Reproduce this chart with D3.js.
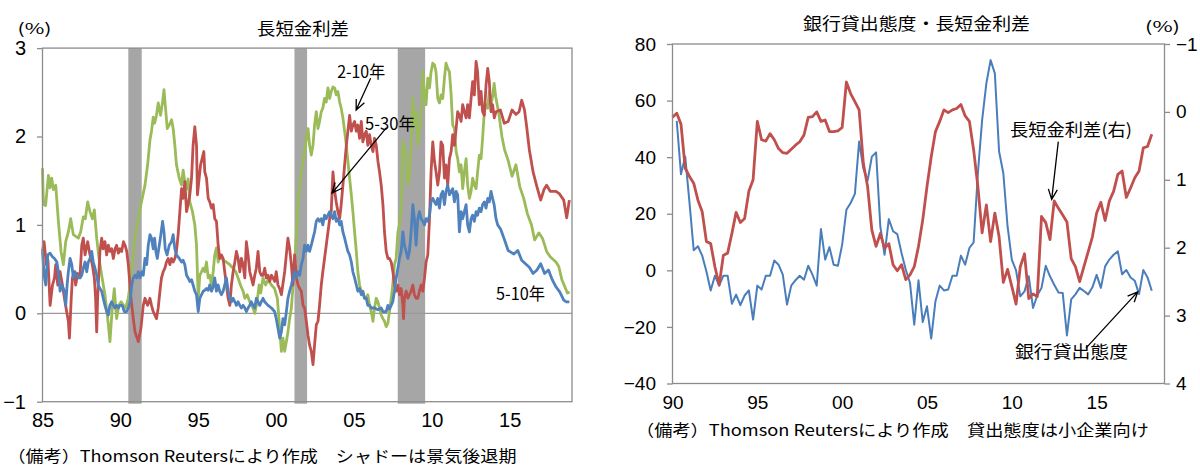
<!DOCTYPE html>
<html>
<head>
<meta charset="utf-8">
<script src="https://cdn.jsdelivr.net/npm/d3@7"></script>
<style>
  html, body { margin: 0; padding: 0; background: #fff; }
  svg { display: block; }
</style>
</head>
<body>
<svg id="chart" width="1200" height="467"></svg>
<script>
// ---------------- data: left panel (US yield-curve spreads, %) ----------------
const leftTickYears  = [1985, 1990, 1995, 2000, 2005, 2010, 2015];
const leftTickLabels = ["85", "90", "95", "00", "05", "10", "15"];
const leftValueTicks = [-1, 0, 1, 2, 3];
// NBER recession periods (shaded)
const recessions = [[1990.51, 1991.37], [2001.18, 2001.99], [2007.81, 2009.57]];

// 2-10 year spread  [year, %]
const spread2y10y = [
  [1985.0,1.64],[1985.06,1.23],[1985.2,1.22],[1985.38,1.56],[1985.48,1.42],[1985.59,1.53],[1985.7,1.40],[1985.85,1.45],
  [1986.02,1.04],[1986.19,0.70],[1986.34,0.55],[1986.49,0.81],[1986.66,0.92],[1986.81,1.07],[1986.98,0.89],[1987.14,0.87],
  [1987.30,0.85],[1987.45,0.92],[1987.62,1.09],[1987.75,1.07],[1987.9,1.26],[1988.05,1.15],[1988.2,1.07],[1988.33,1.17],
  [1988.48,0.85],[1988.63,0.62],[1988.8,0.43],[1989.01,0.21],[1989.23,-0.13],[1989.33,-0.32],[1989.48,0.06],[1989.61,0.28],
  [1989.76,-0.06],[1989.9,0.09],[1990.05,0.13],[1990.2,0.09],[1990.34,0.06],[1990.51,0.17],[1990.68,0.40],[1990.83,0.66],
  [1990.98,0.92],[1991.15,1.07],[1991.32,1.23],[1991.45,1.34],[1991.58,1.45],[1991.75,1.68],[1991.9,1.96],[1992.0,2.06],
  [1992.11,2.22],[1992.2,2.15],[1992.32,2.24],[1992.43,2.38],[1992.58,2.24],[1992.71,2.39],[1992.8,2.53],[1992.92,2.28],
  [1993.01,2.09],[1993.14,2.13],[1993.29,2.19],[1993.39,2.09],[1993.5,1.90],[1993.6,1.68],[1993.78,1.53],[1993.93,1.45],
  [1994.03,1.62],[1994.14,1.49],[1994.25,1.41],[1994.35,1.52],[1994.46,1.26],[1994.63,1.15],[1994.78,1.00],[1994.89,0.77],
  [1995.0,0.17],[1995.1,0.43],[1995.21,0.47],[1995.32,0.51],[1995.42,0.47],[1995.53,0.58],[1995.64,0.40],[1995.74,0.43],
  [1995.85,0.32],[1995.96,0.47],[1996.06,0.66],[1996.17,0.74],[1996.28,0.58],[1996.38,0.66],[1996.6,0.60],[1996.81,0.58],
  [1997.03,0.55],[1997.24,0.51],[1997.41,0.47],[1997.56,0.40],[1997.71,0.32],[1997.88,0.25],[1997.99,0.17],[1998.14,0.21],
  [1998.31,0.13],[1998.52,0.06],[1998.63,0.0],[1998.78,0.13],[1998.91,0.32],[1999.01,0.23],[1999.16,0.40],[1999.33,0.32],
  [1999.48,0.38],[1999.7,0.32],[1999.9,0.28],[2000.08,0.17],[2000.23,-0.17],[2000.34,-0.43],[2000.44,-0.28],[2000.55,-0.43],
  [2000.66,-0.32],[2000.76,-0.21],[2000.87,-0.06],[2000.98,0.06],[2001.09,0.32],[2001.19,0.58],[2001.3,0.89],[2001.41,1.23],
  [2001.51,1.45],[2001.62,1.60],[2001.73,1.72],[2001.83,1.83],[2001.94,1.98],[2002.05,2.09],[2002.15,1.90],[2002.26,1.79],
  [2002.37,1.90],[2002.47,2.13],[2002.58,2.28],[2002.69,2.09],[2002.79,2.17],[2002.9,2.28],[2003.0,2.32],[2003.11,2.43],
  [2003.22,2.39],[2003.33,2.55],[2003.44,2.43],[2003.54,2.51],[2003.65,2.56],[2003.76,2.55],[2003.86,2.47],[2003.97,2.51],
  [2004.08,2.39],[2004.18,2.32],[2004.29,2.21],[2004.4,2.06],[2004.51,1.90],[2004.61,1.72],[2004.72,1.53],[2004.83,1.34],
  [2004.93,1.15],[2005.04,0.92],[2005.15,0.70],[2005.25,0.47],[2005.36,0.32],[2005.47,0.25],[2005.57,0.23],[2005.68,0.17],
  [2005.79,0.17],[2005.89,0.21],[2006.0,0.09],[2006.11,0.02],[2006.22,-0.09],[2006.32,0.06],[2006.43,0.17],[2006.54,0.13],
  [2006.64,0.06],[2006.75,-0.02],[2006.86,-0.06],[2006.96,-0.09],[2007.07,-0.15],[2007.18,-0.11],[2007.28,0.02],[2007.39,0.17],
  [2007.49,0.32],[2007.6,0.55],[2007.71,0.62],[2007.82,0.92],[2007.92,1.00],[2008.03,1.19],[2008.14,1.94],[2008.24,1.87],
  [2008.35,1.75],[2008.46,1.45],[2008.56,1.53],[2008.67,1.90],[2008.78,2.43],[2008.88,2.13],[2008.99,2.28],[2009.1,1.90],
  [2009.2,2.06],[2009.31,2.28],[2009.42,2.73],[2009.53,2.47],[2009.63,2.36],[2009.74,2.66],[2009.85,2.55],[2009.95,2.73],
  [2010.06,2.83],[2010.17,2.81],[2010.27,2.73],[2010.38,2.43],[2010.49,2.38],[2010.59,2.47],[2010.7,2.43],[2010.81,2.66],
  [2010.91,2.83],[2011.02,2.77],[2011.13,2.73],[2011.24,2.47],[2011.34,2.13],[2011.45,2.09],[2011.56,1.83],[2011.66,1.75],
  [2011.77,1.60],[2011.88,1.68],[2011.98,1.41],[2012.09,1.60],[2012.2,1.75],[2012.3,1.45],[2012.41,1.30],[2012.52,1.38],
  [2012.62,1.53],[2012.73,1.45],[2012.84,1.41],[2012.94,1.60],[2013.05,1.79],[2013.16,1.75],[2013.26,1.98],[2013.37,2.28],
  [2013.48,2.36],[2013.59,2.32],[2013.69,2.51],[2013.8,2.36],[2013.9,2.45],[2014.0,2.60],[2014.1,2.45],[2014.3,2.26],
  [2014.5,2.00],[2014.67,1.85],[2014.9,1.73],[2015.15,1.55],[2015.4,1.68],[2015.65,1.43],[2015.9,1.30],[2016.13,1.13],
  [2016.4,1.00],[2016.6,0.83],[2016.87,0.91],[2017.1,0.85],[2017.37,0.70],[2017.6,0.64],[2017.97,0.58],[2018.15,0.53],
  [2018.35,0.38],[2018.54,0.30],[2018.7,0.23],[2018.85,0.24]
];

// 5-30 year spread  [year, %]
const spread5y30y = [
  [1985.0,0.70],[1985.1,0.81],[1985.25,0.55],[1985.35,0.60],[1985.49,0.09],[1985.64,0.32],[1985.77,0.40],[1985.85,0.55],
  [1985.98,0.32],[1986.13,0.47],[1986.28,0.32],[1986.41,0.17],[1986.55,0.02],[1986.66,-0.09],[1986.73,-0.28],[1986.84,0.15],
  [1986.92,0.40],[1987.05,0.47],[1987.13,0.32],[1987.26,0.45],[1987.41,0.43],[1987.52,0.77],[1987.62,0.85],[1987.73,0.66],
  [1987.9,0.81],[1988.05,0.66],[1988.2,0.55],[1988.33,0.40],[1988.41,0.17],[1988.48,-0.21],[1988.54,0.17],[1988.69,0.70],
  [1988.8,0.85],[1988.9,0.73],[1989.01,0.81],[1989.12,0.66],[1989.23,0.77],[1989.33,0.70],[1989.44,0.73],[1989.55,0.62],
  [1989.66,0.73],[1989.76,0.77],[1989.87,0.68],[1989.98,0.73],[1990.08,0.70],[1990.2,0.81],[1990.3,0.77],[1990.41,0.70],
  [1990.51,0.55],[1990.58,0.40],[1990.68,0.17],[1990.83,-0.06],[1990.94,-0.21],[1991.15,-0.32],[1991.32,-0.17],[1991.47,0.09],
  [1991.58,0.17],[1991.75,0.09],[1991.9,0.17],[1992.0,0.09],[1992.11,0.02],[1992.22,-0.02],[1992.32,-0.06],[1992.43,0.06],
  [1992.54,0.25],[1992.64,0.40],[1992.75,0.47],[1992.86,0.51],[1992.96,0.58],[1993.07,0.62],[1993.18,0.55],[1993.29,0.62],
  [1993.39,0.58],[1993.5,0.62],[1993.6,0.70],[1993.71,0.89],[1993.82,1.15],[1993.93,1.41],[1994.03,1.30],[1994.14,1.49],
  [1994.25,1.15],[1994.35,1.23],[1994.46,1.34],[1994.57,1.53],[1994.67,1.90],[1994.78,2.11],[1994.89,1.90],[1994.95,1.34],
  [1995.06,1.53],[1995.15,1.68],[1995.25,1.75],[1995.36,1.83],[1995.42,1.60],[1995.53,1.53],[1995.64,1.30],[1995.74,1.26],
  [1995.85,1.19],[1995.96,1.23],[1996.06,1.07],[1996.17,1.04],[1996.28,0.77],[1996.38,0.62],[1996.49,0.66],[1996.6,0.62],
  [1996.7,0.47],[1996.81,0.32],[1996.92,0.17],[1997.03,0.09],[1997.13,0.32],[1997.24,0.47],[1997.35,0.58],[1997.45,0.70],
  [1997.56,0.62],[1997.67,0.47],[1997.77,0.62],[1997.88,0.55],[1997.99,0.40],[1998.09,0.81],[1998.2,0.66],[1998.31,0.47],
  [1998.41,0.40],[1998.52,0.32],[1998.63,0.43],[1998.73,0.51],[1998.84,0.70],[1998.95,0.47],[1999.05,0.43],[1999.16,0.43],
  [1999.27,0.51],[1999.37,0.40],[1999.48,0.43],[1999.59,0.36],[1999.7,0.43],[1999.8,0.40],[1999.91,0.36],[2000.01,0.47],
  [2000.12,0.32],[2000.23,0.28],[2000.34,0.21],[2000.55,0.47],[2000.76,0.85],[2000.87,0.73],[2000.98,0.55],[2001.08,0.32],
  [2001.19,0.66],[2001.3,0.40],[2001.41,0.32],[2001.51,0.28],[2001.62,0.25],[2001.73,0.09],[2001.83,0.06],[2001.94,-0.09],
  [2002.05,-0.25],[2002.15,-0.36],[2002.26,-0.43],[2002.37,-0.58],[2002.47,-0.36],[2002.58,-0.13],[2002.69,-0.09],[2002.79,0.09],
  [2002.9,0.32],[2003.0,0.47],[2003.11,0.62],[2003.22,0.77],[2003.33,0.92],[2003.44,1.07],[2003.54,1.15],[2003.65,1.60],
  [2003.76,1.38],[2003.86,1.26],[2003.97,1.15],[2004.08,1.07],[2004.18,1.23],[2004.29,1.45],[2004.4,1.68],[2004.51,1.90],
  [2004.61,2.06],[2004.72,2.24],[2004.83,2.06],[2004.93,2.13],[2005.04,2.17],[2005.15,2.06],[2005.25,2.13],[2005.36,1.98],
  [2005.47,2.17],[2005.57,1.94],[2005.68,2.02],[2005.79,2.06],[2005.89,1.90],[2006.0,2.02],[2006.11,1.90],[2006.22,1.83],
  [2006.32,1.98],[2006.43,1.90],[2006.54,1.72],[2006.64,1.60],[2006.75,1.45],[2006.86,1.23],[2006.96,0.92],[2007.07,0.70],
  [2007.18,0.62],[2007.28,0.62],[2007.39,0.58],[2007.5,0.47],[2007.6,0.32],[2007.71,0.25],[2007.82,0.32],[2007.92,0.21],
  [2008.03,0.28],[2008.14,0.09],[2008.18,-0.06],[2008.24,0.17],[2008.35,0.25],[2008.46,0.17],[2008.56,0.21],[2008.67,0.25],
  [2008.78,0.32],[2008.88,0.21],[2008.99,0.17],[2009.1,0.17],[2009.2,0.25],[2009.31,0.32],[2009.42,0.25],[2009.53,0.40],
  [2009.63,0.58],[2009.74,0.66],[2009.85,1.07],[2009.95,1.60],[2010.06,1.94],[2010.17,1.72],[2010.27,1.60],[2010.38,1.45],
  [2010.49,1.60],[2010.59,1.94],[2010.7,1.90],[2010.81,1.53],[2010.91,1.68],[2011.02,1.45],[2011.13,1.75],[2011.24,1.83],
  [2011.34,2.02],[2011.45,1.90],[2011.56,2.09],[2011.66,2.28],[2011.77,2.24],[2011.88,2.17],[2011.98,2.36],[2012.09,2.28],
  [2012.2,2.21],[2012.3,2.36],[2012.41,2.21],[2012.52,2.43],[2012.62,2.62],[2012.73,2.47],[2012.84,2.85],[2012.94,2.73],
  [2013.05,2.36],[2013.16,2.51],[2013.26,2.28],[2013.37,2.24],[2013.48,2.58],[2013.59,2.77],[2013.69,2.62],[2013.8,2.28],
  [2013.9,2.36],[2014.01,2.21],[2014.12,2.28],[2014.4,2.30],[2014.65,2.15],[2014.9,2.17],[2015.15,2.30],[2015.4,2.25],
  [2015.6,2.28],[2015.77,2.41],[2015.95,2.30],[2016.09,2.11],[2016.26,1.85],[2016.5,1.60],[2016.75,1.43],[2016.99,1.28],
  [2017.2,1.40],[2017.37,1.45],[2017.6,1.38],[2017.97,1.38],[2018.2,1.35],[2018.47,1.28],[2018.66,1.08],[2018.83,1.28]
];

// 5-10 year spread  [year, %]
const spread5y10y = [
  [1985.0,0.70],[1985.06,0.55],[1985.13,0.40],[1985.21,0.32],[1985.34,0.66],[1985.49,0.68],[1985.64,0.64],[1985.77,0.62],
  [1985.92,0.58],[1986.02,0.47],[1986.13,0.25],[1986.24,0.32],[1986.41,0.25],[1986.49,0.09],[1986.58,0.32],[1986.66,0.47],
  [1986.77,0.62],[1986.88,0.55],[1986.98,0.40],[1987.09,0.47],[1987.2,0.43],[1987.3,0.40],[1987.41,0.40],[1987.52,0.43],
  [1987.62,0.51],[1987.73,0.58],[1987.84,0.47],[1987.94,0.58],[1988.05,0.62],[1988.16,0.70],[1988.26,0.58],[1988.37,0.51],
  [1988.48,0.43],[1988.58,0.32],[1988.69,0.28],[1988.8,0.25],[1988.9,0.17],[1989.01,0.09],[1989.12,0.02],[1989.23,-0.02],
  [1989.33,0.09],[1989.44,0.13],[1989.55,0.09],[1989.65,0.06],[1989.76,0.09],[1989.87,0.06],[1989.97,0.09],[1990.12,0.09],
  [1990.25,0.02],[1990.4,0.02],[1990.51,0.06],[1990.62,0.13],[1990.73,0.32],[1990.83,0.40],[1990.94,0.43],[1991.05,0.40],
  [1991.15,0.47],[1991.26,0.40],[1991.37,0.47],[1991.47,0.43],[1991.58,0.62],[1991.69,0.55],[1991.79,0.77],[1991.9,0.89],
  [1992.0,0.85],[1992.11,0.73],[1992.2,0.85],[1992.28,0.70],[1992.37,0.62],[1992.5,0.77],[1992.6,0.89],[1992.71,1.04],
  [1992.8,0.92],[1992.88,0.73],[1993.0,0.66],[1993.14,0.77],[1993.29,0.81],[1993.39,0.89],[1993.5,0.73],[1993.6,0.66],
  [1993.78,0.62],[1993.93,0.58],[1994.03,0.60],[1994.14,0.55],[1994.25,0.43],[1994.35,0.40],[1994.46,0.36],[1994.57,0.38],
  [1994.67,0.32],[1994.78,0.25],[1994.89,0.21],[1995.0,0.02],[1995.1,0.17],[1995.21,0.21],[1995.32,0.25],[1995.42,0.26],
  [1995.53,0.28],[1995.64,0.26],[1995.74,0.32],[1995.85,0.25],[1995.96,0.30],[1996.06,0.40],[1996.17,0.25],[1996.28,0.32],
  [1996.38,0.25],[1996.49,0.21],[1996.6,0.25],[1996.7,0.32],[1996.81,0.40],[1996.92,0.25],[1997.03,0.17],[1997.13,0.13],
  [1997.24,0.17],[1997.35,0.13],[1997.45,0.09],[1997.56,0.13],[1997.67,0.09],[1997.77,0.06],[1997.88,0.09],[1997.99,0.06],
  [1998.09,0.02],[1998.2,0.06],[1998.31,0.09],[1998.41,0.13],[1998.52,0.09],[1998.63,0.06],[1998.73,0.17],[1998.84,0.13],
  [1998.95,0.09],[1999.05,0.13],[1999.16,0.17],[1999.27,0.13],[1999.48,0.09],[1999.7,0.06],[1999.9,0.02],[2000.01,-0.06],
  [2000.12,-0.17],[2000.23,-0.28],[2000.34,-0.21],[2000.44,-0.06],[2000.55,-0.13],[2000.66,0.02],[2000.76,0.17],[2000.87,0.25],
  [2000.98,0.32],[2001.08,0.40],[2001.19,0.47],[2001.3,0.40],[2001.41,0.47],[2001.51,0.43],[2001.62,0.55],[2001.73,0.62],
  [2001.83,0.77],[2001.94,0.70],[2002.05,0.77],[2002.15,0.70],[2002.26,0.77],[2002.37,0.85],[2002.47,0.92],[2002.58,1.04],
  [2002.69,1.07],[2002.79,1.04],[2002.9,1.07],[2003.0,1.00],[2003.11,1.11],[2003.22,1.07],[2003.33,1.11],[2003.44,1.15],
  [2003.54,1.11],[2003.65,1.07],[2003.76,1.15],[2003.86,1.04],[2003.97,1.07],[2004.08,1.00],[2004.18,1.04],[2004.29,0.92],
  [2004.4,0.85],[2004.51,0.77],[2004.61,0.70],[2004.72,0.66],[2004.83,0.58],[2004.93,0.47],[2005.04,0.40],[2005.15,0.32],
  [2005.25,0.25],[2005.36,0.28],[2005.47,0.21],[2005.57,0.25],[2005.68,0.17],[2005.79,0.17],[2005.89,0.09],[2006.0,0.09],
  [2006.11,0.06],[2006.32,0.06],[2006.54,0.04],[2006.75,0.06],[2006.86,0.02],[2007.07,0.02],[2007.18,0.09],[2007.28,0.05],
  [2007.39,0.09],[2007.49,0.13],[2007.6,0.25],[2007.71,0.40],[2007.82,0.51],[2007.92,0.62],[2008.03,0.70],[2008.14,0.92],
  [2008.24,0.77],[2008.35,0.70],[2008.46,0.62],[2008.56,0.70],[2008.67,0.92],[2008.78,1.23],[2008.88,1.07],[2008.99,0.77],
  [2009.1,1.07],[2009.2,1.15],[2009.31,1.07],[2009.42,1.04],[2009.53,1.00],[2009.63,1.07],[2009.74,1.04],[2009.85,1.11],
  [2009.95,1.26],[2010.06,1.30],[2010.17,1.26],[2010.27,1.23],[2010.38,1.30],[2010.49,1.19],[2010.59,1.34],[2010.7,1.38],
  [2010.81,1.23],[2010.91,1.38],[2011.02,1.45],[2011.13,1.34],[2011.24,1.38],[2011.34,1.41],[2011.45,1.26],[2011.56,1.38],
  [2011.66,1.34],[2011.77,0.92],[2011.88,1.15],[2011.98,1.07],[2012.09,1.15],[2012.2,1.23],[2012.3,1.00],[2012.41,0.92],
  [2012.52,1.07],[2012.62,1.11],[2012.73,1.04],[2012.84,1.15],[2012.94,1.11],[2013.05,1.19],[2013.16,1.15],[2013.26,1.23],
  [2013.37,1.26],[2013.48,1.19],[2013.59,1.30],[2013.69,1.26],[2013.8,1.38],[2013.9,1.30],[2014.0,1.23],[2014.12,1.07],
  [2014.23,1.00],[2014.42,0.95],[2014.67,0.83],[2014.9,0.71],[2015.27,0.67],[2015.52,0.71],[2015.77,0.60],[2016.01,0.56],
  [2016.26,0.52],[2016.5,0.45],[2016.75,0.49],[2016.99,0.56],[2017.24,0.45],[2017.49,0.49],[2017.73,0.38],[2017.97,0.30],
  [2018.22,0.24],[2018.47,0.15],[2018.64,0.13],[2018.83,0.13]
];

// ---------------- data: right panel (quarterly) ----------------
const rightTickYears  = [1990, 1995, 2000, 2005, 2010, 2015];
const rightTickLabels = ["90", "95", "00", "05", "10", "15"];
const lendingTicks = [-40, -20, 0, 20, 40, 60, 80];
const spreadTicks  = [-1, 0, 1, 2, 3, 4];

// Bank lending standards for small firms (net % tightening), quarterly from 1990 Q2
const lendingStart = 1990.25;
const lendingStandards = [
  52.8, 34.0, 40.2, 24.0, 7.1, 8.5, 5.2, -0.4, -7.1, -1.9, -5.4, -1.9, -1.9, -11.8, -8.6, -12.3,
  -8.9, -7.1, -17.4, -5.4, -6.8, -1.9, -1.9, 3.5, 2.0, -1.5, -12.1, -5.4, -3.5, -1.9, -3.3, 1.6,
  -1.5, -5.4, 14.6, 3.8, 8.2, 2.0, 1.6, 9.1, 21.4, 23.8, 27.0, 45.5, 36.0, 31.7, 40.2, 41.7,
  15.5, 5.5, 18.1, 13.8, 12.8, 6.1, 0.2, -4.5, -19.2, -3.5, -18.3, -12.7, -24.1, -10.9, -5.4, -7.1,
  -6.8, -1.9, -1.9, 5.2, 2.0, 7.9, 9.9, 34.3, 53.1, 66.1, 74.3, 69.6, 42.0, 34.3, 15.5, 3.8,
  0.0, -9.2, -7.4, -2.1, -13.3, -8.9, -6.2, 1.6, -2.1, -5.1, -7.8, -8.0, -23.0, -10.3, -8.5, -6.2,
  -7.3, -8.5, -6.0, -1.6, -6.2, 1.4, 3.8, 5.5, 6.7, -1.4, 0.1, -2.5, -3.7, -8.4, 0.1, -2.5, -7.2
];

// Long-short rate spread (%, right axis, inverted), quarterly from 1990 Q1
const curveStart = 1990.0;
const curveSpread = [
  0.08, 0.02, 0.18, 0.83, 0.95, 1.05, 1.30, 1.47, 1.91, 1.94, 2.28, 2.55, 2.11, 2.08, 1.79, 1.48,
  1.63, 1.57, 1.17, 1.00, 0.14, 0.41, 0.43, 0.32, 0.41, 0.54, 0.60, 0.61, 0.55, 0.49, 0.44, 0.34,
  0.08, 0.07, 0.00, 0.14, 0.12, 0.29, 0.29, 0.28, 0.23, -0.44, -0.27, -0.15, -0.03, 0.76, 1.10, 1.74,
  1.98, 1.79, 2.01, 1.94, 2.25, 2.34, 2.25, 2.47, 2.40, 2.28, 1.98, 1.59, 1.10, 0.66, 0.29, 0.14,
  -0.03, 0.01, -0.03, -0.05, -0.11, 0.06, 0.14, 0.56, 1.10, 1.78, 1.37, 1.91, 1.49, 1.84, 2.51, 2.32,
  2.57, 2.83, 2.28, 2.09, 2.75, 2.68, 2.72, 1.54, 1.63, 1.88, 1.31, 1.42, 1.52, 1.62, 2.16, 2.28,
  2.50, 2.28, 2.06, 1.84, 1.49, 1.33, 1.60, 1.31, 1.17, 0.92, 0.87, 1.26, 1.12, 0.97, 0.87, 0.53,
  0.51, 0.33
];

// ---------------- drawing ----------------
const svg = d3.select("#chart");
const NUM_FONT = "'Liberation Sans Narrow', 'Liberation Sans', Arial, sans-serif";
const JP_FONT = "'Noto Sans CJK JP', 'Noto Sans', sans-serif";
const AXIS_GREY = "#8c8c8c";
const C_GREEN = "#9bbb59", C_RED = "#c0504d", C_BLUE = "#4f81bd";

svg.append("rect").attr("width", 1200).attr("height", 467).attr("fill", "#fff");

function text(g, x, y, str, opts = {}) {
  const t = g.append("text")
    .attr("x", x).attr("y", y)
    .attr("dominant-baseline", "central")
    .attr("text-anchor", opts.anchor || "middle")
    .attr("font-family", opts.font || JP_FONT)
    .attr("font-size", opts.size || 17)
    .attr("fill", opts.fill || "#000")
    .text(str);
  if (opts.len) t.attr("textLength", opts.len).attr("lengthAdjust", "spacingAndGlyphs");
  return t;
}

function arrow(g, x1, y1, x2, y2) {
  const ang = Math.atan2(y2 - y1, x2 - x1);
  const L = 11, spread = 0.42;
  const a1 = [x2 - L * Math.cos(ang - spread), y2 - L * Math.sin(ang - spread)];
  const a2 = [x2 - L * Math.cos(ang + spread), y2 - L * Math.sin(ang + spread)];
  g.append("path")
    .attr("d", `M${x1},${y1}L${x2},${y2}M${a1[0]},${a1[1]}L${x2},${y2}L${a2[0]},${a2[1]}`)
    .attr("fill", "none").attr("stroke", "#000").attr("stroke-width", 1.3);
}

// ===== Left panel =====
{
  const g = svg.append("g");
  const x = d3.scaleLinear().domain([1985, 2019]).range([42.5, 572]);
  const y = d3.scaleLinear().domain([-1, 3]).range([401.7, 48.1]);

  // recession shading
  g.selectAll("rect.rec").data(recessions).join("rect")
    .attr("x", d => x(d[0])).attr("width", d => x(d[1]) - x(d[0]))
    .attr("y", y(3)).attr("height", y(-1) - y(3) + 2)
    .attr("fill", "#a6a6a6");

  // zero line
  g.append("line").attr("x1", x(1985)).attr("x2", x(2019))
    .attr("y1", y(0)).attr("y2", y(0))
    .attr("stroke", "#9a9a9a").attr("stroke-width", 1.3);

  const line = d3.line().x(d => x(d[0])).y(d => y(d[1]));
  [[spread2y10y, C_GREEN], [spread5y30y, C_RED], [spread5y10y, C_BLUE]].forEach(([data, c]) => {
    g.append("path").datum(data).attr("d", line)
      .attr("fill", "none").attr("stroke", c).attr("stroke-width", 2.8)
      .attr("stroke-linejoin", "round");
  });

  // frame
  g.append("rect").attr("x", x(1985)).attr("y", y(3))
    .attr("width", x(2019) - x(1985)).attr("height", y(-1) - y(3))
    .attr("fill", "none").attr("stroke", AXIS_GREY).attr("stroke-width", 1.3);

  // y axis ticks + labels
  const yAxis = d3.axisLeft(y).tickValues(leftValueTicks).tickSize(5.5).tickPadding(11)
    .tickFormat(d => d < 0 ? "\u2212" + Math.abs(d) : d);
  const ya = g.append("g").attr("transform", `translate(${x(1985)},0)`).call(yAxis);
  ya.select(".domain").remove();
  ya.selectAll("line").attr("stroke", AXIS_GREY).attr("stroke-width", 1.3);
  ya.selectAll("text").attr("font-family", NUM_FONT).attr("font-size", 20).attr("fill", "#000");

  // x axis labels
  const xAxis = d3.axisBottom(x).tickValues(leftTickYears).tickSize(0).tickPadding(11)
    .tickFormat((d, i) => leftTickLabels[i]);
  const xa = g.append("g").attr("transform", `translate(0,${y(-1)})`).call(xAxis);
  xa.select(".domain").remove();
  xa.selectAll("text").attr("font-family", NUM_FONT).attr("font-size", 20).attr("fill", "#000");

  // titles and notes
  text(g, 303, 27, "長短金利差", { size: 17, len: 92 });
  text(g, 34.5, 27, "(%)", { size: 15, len: 34 });
  text(g, 7.5, 455, "（備考）Thomson Reutersにより作成　シャドーは景気後退期", { anchor: "start", size: 16, len: 509 });

  // annotations
  text(g, x(2005.46), y(2.75), "2-10年", { size: 17, len: 48 });
  arrow(g, x(2006.07), y(2.66), x(2005.14), y(2.30));
  text(g, x(2007.32), y(2.16), "5-30年", { size: 17, len: 50 });
  arrow(g, x(2007.09), y(2.10), x(2003.59), y(1.36));
  text(g, x(2015.7), y(0.24), "5-10年", { size: 17, len: 49 });
}

// ===== Right panel =====
{
  const g = svg.append("g");
  const x = d3.scaleLinear().domain([1990, 2019]).range([672.5, 1164.5]);
  const yL = d3.scaleLinear().domain([-40, 80]).range([383.5, 44]);
  const yR = d3.scaleLinear().domain([-1, 4]).range([44, 383.5]);

  const lendLine = d3.line().x((d, i) => x(lendingStart + i * 0.25)).y(d => yL(d));
  const curveLine = d3.line().x((d, i) => x(curveStart + i * 0.25)).y(d => yR(d));

  g.append("path").datum(lendingStandards).attr("d", lendLine)
    .attr("fill", "none").attr("stroke", "#4a7ebb").attr("stroke-width", 2)
    .attr("stroke-linejoin", "round");
  g.append("path").datum(curveSpread).attr("d", curveLine)
    .attr("fill", "none").attr("stroke", C_RED).attr("stroke-width", 2.8)
    .attr("stroke-linejoin", "round");

  // frame
  g.append("rect").attr("x", x(1990)).attr("y", yL(80))
    .attr("width", x(2019) - x(1990)).attr("height", yL(-40) - yL(80))
    .attr("fill", "none").attr("stroke", AXIS_GREY).attr("stroke-width", 1.3);

  const la = g.append("g").attr("transform", `translate(${x(1990)},0)`)
    .call(d3.axisLeft(yL).tickValues(lendingTicks).tickSize(5.5).tickPadding(11)
      .tickFormat(d => d < 0 ? "\u2212" + Math.abs(d) : d));
  la.select(".domain").remove();
  la.selectAll("line").attr("stroke", AXIS_GREY).attr("stroke-width", 1.3);
  la.selectAll("text").attr("font-family", NUM_FONT).attr("font-size", 19).attr("fill", "#000");

  const ra = g.append("g").attr("transform", `translate(${x(2019)},0)`)
    .call(d3.axisRight(yR).tickValues(spreadTicks).tickSize(5.5).tickPadding(6)
      .tickFormat(d => d < 0 ? "\u2212" + Math.abs(d) : d));
  ra.select(".domain").remove();
  ra.selectAll("line").attr("stroke", AXIS_GREY).attr("stroke-width", 1.3);
  ra.selectAll("text").attr("font-family", NUM_FONT).attr("font-size", 19).attr("fill", "#000");

  const xa = g.append("g").attr("transform", `translate(0,${yL(-40)})`)
    .call(d3.axisBottom(x).tickValues(rightTickYears).tickSize(0).tickPadding(12)
      .tickFormat((d, i) => rightTickLabels[i]));
  xa.select(".domain").remove();
  xa.selectAll("text").attr("font-family", NUM_FONT).attr("font-size", 19).attr("fill", "#000");

  text(g, 916.5, 22, "銀行貸出態度・長短金利差", { size: 17, len: 227 });
  text(g, 1162.5, 25, "(%)", { size: 15, len: 35 });
  text(g, 636, 429, "（備考）Thomson Reutersにより作成　貸出態度は小企業向け", { anchor: "start", size: 16, len: 513 });

  text(g, x(2013.49), yL(50.3), "長短金利差(右)", { size: 17, len: 122 });
  arrow(g, x(2012.74), yL(45.5), x(2012.35), yL(25.1));
  text(g, x(2013.52), yL(-28.2), "銀行貸出態度", { size: 17, len: 113 });
  arrow(g, x(2014.37), yL(-27.5), x(2017.42), yL(-7.6));
}
</script>
</body>
</html>
